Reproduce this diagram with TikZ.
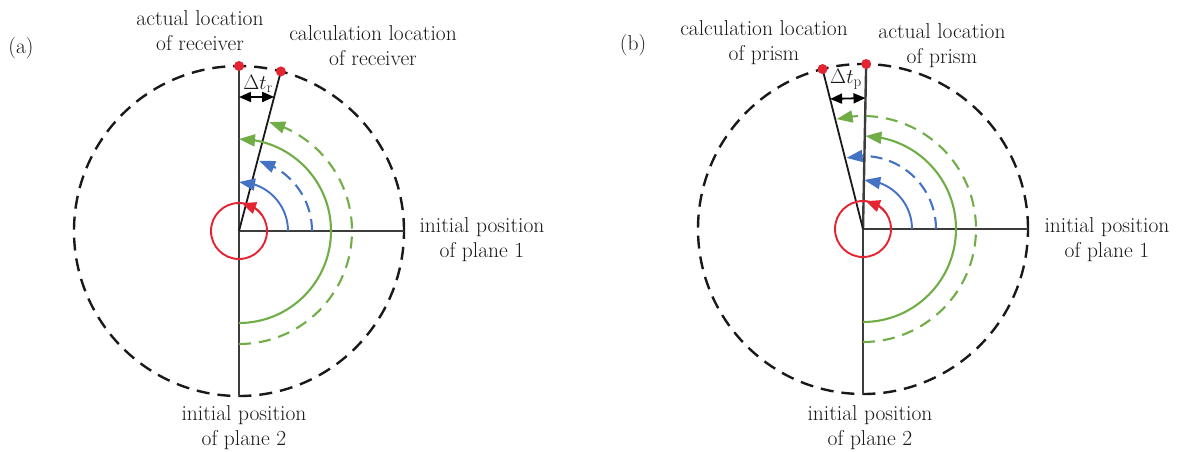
\documentclass[tikz,border=0pt]{standalone}
\usepackage{fontspec}
\usetikzlibrary{arrows.meta,calc,bending}
\definecolor{myred}{RGB}{228,36,48}
\definecolor{mygreen}{RGB}{112,173,71}
\definecolor{myblue}{RGB}{68,114,196}
\definecolor{axisgray}{RGB}{60,60,60}
\definecolor{outerc}{RGB}{25,25,25}
\definecolor{txt}{RGB}{25,25,25}
\begin{document}
\begin{tikzpicture}[x=1pt,y=1pt,
  lbl/.style={font=\fontsize{21.5}{25}\selectfont, align=center, inner sep=0pt, text=txt},
  outer/.style={outerc, line width=2.4pt, dash pattern=on 13pt off 8pt},
  axis/.style={axisgray, line width=2.4pt},
  calcline/.style={black!90, line width=1.8pt},
  tip/.style={-{Triangle[length=16pt,width=12pt]}},
  redtip/.style={-{Triangle[length=14pt,width=12pt]}},
  bsol/.style={myblue, line width=1.9pt, tip},
  bdash/.style={myblue, line width=2.1pt, dash pattern=on 12pt off 7pt, tip},
  gsol/.style={mygreen, line width=2.1pt, tip},
  gdash/.style={mygreen, line width=2.1pt, dash pattern=on 12pt off 8pt, tip},
  redc/.style={myred, line width=1.9pt},
  dot/.style={myred},
  delta/.style={black, line width=1.8pt, {Triangle[length=12pt,width=10pt]}-{Triangle[length=12pt,width=10pt]}}
]
\useasboundingbox (0,0) rectangle (1183,451);

% ---------------- panel (a) ----------------
\coordinate (Ca) at (239,220);
\coordinate (Pa) at ($(Ca)+(90:165)$);
\coordinate (Qa) at ($(Ca)+(75.3:165)$);
\coordinate (Ea) at ($(Ca)+(0:165)$);
\coordinate (Sa) at ($(Ca)+(-90:165)$);
\draw[outer] (Ca) circle[radius=165];
\draw[axis] (Pa) -- (Sa);
\draw[axis] (Ca) -- (Ea);
\draw[calcline] (Ca) -- (Qa);
\draw[bsol] ($(Ca)+(0:49)$) arc[start angle=0,end angle=90,radius=49];
\draw[bdash] ($(Ca)+(0:73)$) arc[start angle=0,end angle=74,radius=73];
\draw[gsol] ($(Ca)+(-90:92)$) arc[start angle=-90,end angle=90,radius=92];
\draw[gdash] ($(Ca)+(-90:113)$) arc[start angle=-90,end angle=74.5,radius=113];
\draw[redc] (Ca) circle[radius=28];
\draw[redc, redtip] ($(Ca)+(35:28)$) arc[start angle=35,end angle=84,radius=28];
\fill[dot] (Pa) circle[radius=5];
\fill[dot] (Qa) circle[radius=5];
\coordinate (DaL) at ($(Ca)!0.812!(Pa)$);
\coordinate (DaR) at ($(Ca)!0.84!(Qa)$);
\draw[delta] (DaL) -- (DaR);
\node[lbl] (dta) at (258,367) {$\Delta t_{\mathrm{r}}$};
\node[lbl] (la) at (21,403) {(a)};
\node[lbl, anchor=north] (acta) at (200,441) {actual location\\of receiver};
\node[lbl, anchor=north] (calca) at (373,426) {calculation location\\of receiver};
\node[lbl, anchor=north] (p1a) at (482,234) {initial position\\of plane 1};
\node[lbl, anchor=north] (p2a) at (244,46) {initial position\\of plane 2};

% ---------------- panel (b) ----------------
\coordinate (Cb) at (863,222);
\coordinate (Pb) at ($(Cb)+(88.9:165)$);
\coordinate (Qb) at ($(Cb)+(104.2:165)$);
\coordinate (Eb) at ($(Cb)+(0:165)$);
\coordinate (Sb) at ($(Cb)+(-90:165)$);
\draw[outer] (Cb) circle[radius=165];
\draw[axis] (Cb) -- (Pb);
\draw[axis] (Cb) -- (Sb);
\draw[axis] (Cb) -- (Eb);
\draw[calcline] (Cb) -- (Qb);
\draw[bsol] ($(Cb)+(0:49)$) arc[start angle=0,end angle=88.5,radius=49];
\draw[bdash] ($(Cb)+(0:73)$) arc[start angle=0,end angle=103,radius=73];
\draw[gsol] ($(Cb)+(-90:93)$) arc[start angle=-90,end angle=88.5,radius=93];
\draw[gdash] ($(Cb)+(-90:113)$) arc[start angle=-90,end angle=103.5,radius=113];
\draw[redc] (Cb) circle[radius=28];
\draw[redc, redtip] ($(Cb)+(35:28)$) arc[start angle=35,end angle=84,radius=28];
\fill[dot] (Pb) circle[radius=5];
\fill[dot] (Qb) circle[radius=5];
\coordinate (DbL) at ($(Cb)!0.813!(Qb)$);
\coordinate (DbR) at ($(Cb)!0.794!(Pb)$);
\draw[delta] (DbL) -- (DbR);
\node[lbl] (dtb) at (846,372) {$\Delta t_{\mathrm{p}}$};
\node[lbl] (lb) at (633,406) {(b)};
\node[lbl, anchor=north] (calcb) at (764,431) {calculation location\\of prism};
\node[lbl, anchor=north] (actb) at (942,428) {actual location\\of prism};
\node[lbl, anchor=north] (p1b) at (1107,234) {initial position\\of plane 1};
\node[lbl, anchor=north] (p2b) at (870,46) {initial position\\of plane 2};
\end{tikzpicture}
\end{document}
